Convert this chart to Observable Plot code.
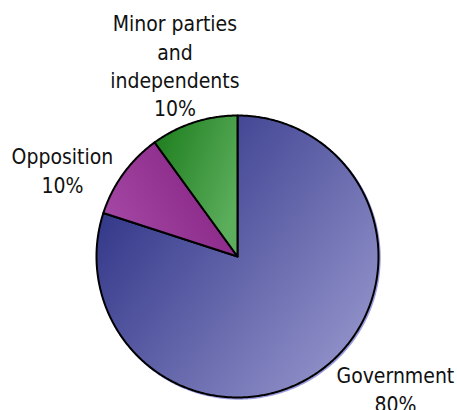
<!DOCTYPE html>
<html><head><meta charset="utf-8">
<script src="https://cdn.jsdelivr.net/npm/d3@7"></script>
<script src="https://cdn.jsdelivr.net/npm/@observablehq/plot@0.6"></script>
<style>body{margin:0;background:#fff}</style>
</head><body><div id="chart"></div>
<script>
const parties = ["Government", "Opposition", "Minor parties\nand\nindependents"];
const shares = [80, 10, 10];

// styling (not data)
const gradientStops = [["#2d3285", "#8f8fc8"], ["#a548a5", "#83207f"], ["#1a7b1a", "#5cae5c"]];
const gradientDirs = [[0, 0.25, 0.85, 0.9], [0, 0.7, 1, 0.2], [0, 0, 1, 0.6]];
const labelOffsets = [[75, 41], [-61, 19], [-19, -6]];

const pie = d3.pie().sort(null).startAngle(0).endAngle(2 * Math.PI)(shares);
const pt = (a) => ({x: Math.sin(a), y: Math.cos(a)});

const slices = pie.map((p, i) => {
  const pts = [{x: 0, y: 0}];
  const n = Math.max(4, Math.ceil((p.endAngle - p.startAngle) / (Math.PI / 360)));
  for (let k = 0; k <= n; ++k) pts.push(pt(p.startAngle + (p.endAngle - p.startAngle) * k / n));
  return pts;
});
const rim = d3.range(0, 721).map(k => pt(k * Math.PI / 360));

const labels = pie.map((p, i) => {
  const m = pt((p.startAngle + p.endAngle) / 2);
  return {x: m.x, y: m.y, text: `${parties[i]}\n${shares[i]}%`};
});

const chart = Plot.plot({
  width: 457, height: 410,
  marginLeft: 96, marginRight: 79, marginTop: 115, marginBottom: 13,
  x: {domain: [-1, 1], axis: null},
  y: {domain: [-1, 1], axis: null},
  style: {fontFamily: "'DejaVu Sans Condensed', 'DejaVu Sans', sans-serif", fontStretch: "condensed", background: "#fff", overflow: "visible"},
  marks: [
    Plot.line(rim, {x: "x", y: "y", dx: 1.2, dy: 1.2, stroke: "#9c9ce0", strokeWidth: 2}),
    ...slices.map((s, i) => Plot.line(s, {x: "x", y: "y", curve: "linear-closed", fill: `url(#sliceGrad${i})`, stroke: "#000", strokeWidth: 2, strokeLinejoin: "round"})),
    ...labels.map((l, i) => Plot.text([l], {x: "x", y: "y", text: "text", dx: labelOffsets[i][0], dy: labelOffsets[i][1], lineAnchor: "bottom", lineHeight: 1.35, fontSize: 21, fill: "#111"}))
  ]
});

const defs = d3.select(chart).insert("defs", ":first-child");
gradientStops.forEach((stops, i) => {
  const [x1, y1, x2, y2] = gradientDirs[i];
  const g = defs.append("linearGradient").attr("id", `sliceGrad${i}`)
    .attr("x1", x1).attr("y1", y1).attr("x2", x2).attr("y2", y2);
  g.append("stop").attr("offset", 0).attr("stop-color", stops[0]);
  g.append("stop").attr("offset", 1).attr("stop-color", stops[1]);
});
document.getElementById("chart").append(chart);
</script>
</body></html>
